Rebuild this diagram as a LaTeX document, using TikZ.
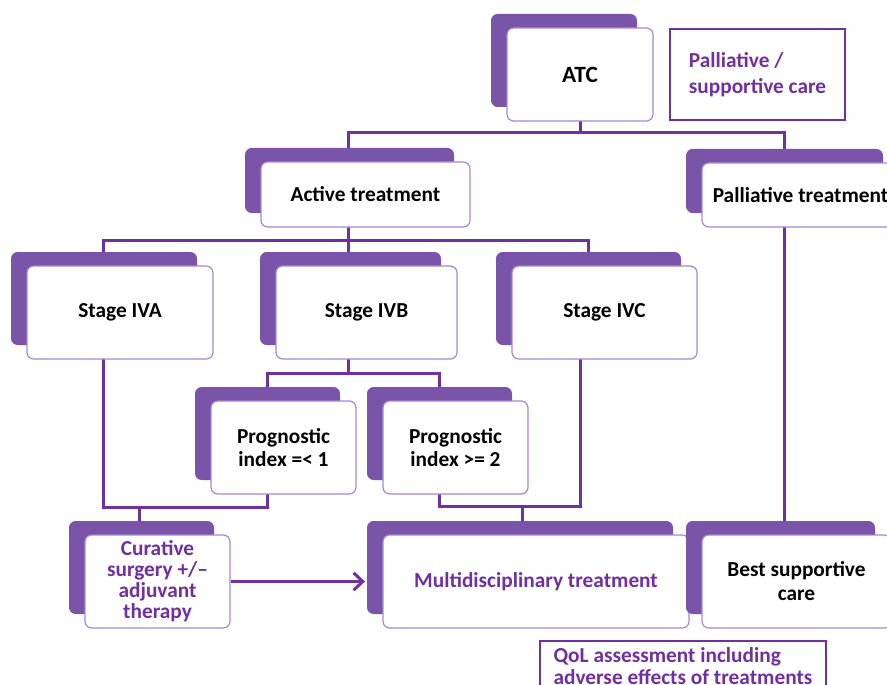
\documentclass[tikz,border=0pt]{standalone}
\usepackage{fontspec}
\setmainfont{Carlito}
\usetikzlibrary{shadows,backgrounds,arrows.meta}
\definecolor{linepurple}{RGB}{112,48,160}
\definecolor{backpurple}{RGB}{122,84,168}
\definecolor{rimpurple}{RGB}{165,135,210}

\begin{document}
\begin{tikzpicture}[x=0.75pt, y=-0.75pt,
  box/.style={shape=rectangle, rounded corners=5pt, draw=rimpurple, line width=0.9pt,
    fill=white, inner sep=0pt, minimum height=69.75pt, align=center,
    font=\fontsize{16}{17.5}\selectfont\bfseries,
    general shadow={shadow xshift=-12pt, shadow yshift=10.5pt, fill=backpurple, draw=none}},
  note/.style={shape=rectangle, draw=linepurple, line width=2.2pt, inner sep=0pt,
    align=left, text=linepurple, font=\fontsize{16}{19.5}\selectfont\bfseries},
  link/.style={draw=linepurple, line width=2.25pt, line cap=rect}]
\useasboundingbox (0,0) rectangle (887,684);

% boxes
\node[box, minimum width=109.5pt, font=\fontsize{17.5}{19}\selectfont\bfseries] (atc) at (580,74.5) {ATC};
\node[note, minimum width=131.25pt, minimum height=68.25pt] (care) at (757.5,74.5) {Palliative /\\supportive care};
\node[box, minimum width=156.75pt, minimum height=48.75pt] (active) at (365.5,194.5) {Active treatment};
\node[box, minimum width=147.75pt, minimum height=48pt] (palliative) at (800.5,195) {Palliative treatment};
\node[box, minimum width=139.5pt] (iva) at (120,312.5) {Stage IVA};
\node[box, minimum width=135.75pt] (ivb) at (366.5,312.5) {Stage IVB};
\node[box, minimum width=138.75pt] (ivc) at (604.5,312.5) {Stage IVC};
\node[box, minimum width=108.75pt] (prog1) at (283.5,447.5) {Prognostic\\index =< 1};
\node[box, minimum width=108.75pt] (prog2) at (455.5,447.5) {Prognostic\\index >= 2};
\node[box, minimum width=108.75pt, text=linepurple, font=\fontsize{16}{15.8}\selectfont\bfseries] (cure) at (157.5,581.5) {Curative\\surgery +/–\\adjuvant\\therapy};
\node[box, minimum width=229.5pt, text=linepurple] (multi) at (536,581.5) {Multidisciplinary treatment};
\node[box, minimum width=141.75pt, font=\fontsize{16}{18}\selectfont\bfseries] (bsc) at (796.5,581.5) {Best supportive\\care};
\node[note, minimum width=214.5pt, minimum height=37.5pt, font=\fontsize{16}{16}\selectfont\bfseries] (qol) at (683,666) {QoL assessment including\\adverse effects of treatments};

% connectors
\begin{scope}[on background layer]
\coordinate (t1) at (348,133);
\coordinate (t2) at (784,133);
\coordinate (s2l) at (103,240);
\coordinate (s2r) at (588,240);
\coordinate (s3l) at (267,373);
\coordinate (s3r) at (439,373);
\coordinate (s4l) at (103,507);
\coordinate (d4) at (139,507);
\coordinate (s5r) at (580,506);
\coordinate (d5) at (522,506);
\draw[link] (atc) -- (atc |- t1);
\draw[link] (t1) -- (t2);
\draw[link] (t1) -- (t1 |- s3l);
\draw[link] (t2) -- (t2 |- bsc);
\draw[link] (s2l) -- (s2r);
\draw[link] (s2l) -- (s4l);
\draw[link] (s2r) -- (s2r |- ivc);
\draw[link] (s5r) -- (s5r |- ivc);
\draw[link] (s3l) -- (s3r);
\draw[link] (s3l) -- (s3l |- s4l);
\draw[link] (s3r) -- (s3r |- s5r);
\draw[link] (s4l) -- (s3l |- s4l);
\draw[link] (d4) -- (d4 |- cure);
\draw[link] (s3r |- s5r) -- (s5r);
\draw[link] (d5) -- (d5 |- multi);
\end{scope}
\draw[link, line cap=butt, -{Straight Barb[length=7pt, width=13pt]}] (cure) -- ([xshift=-13pt]multi.west);
\end{tikzpicture}
\end{document}
